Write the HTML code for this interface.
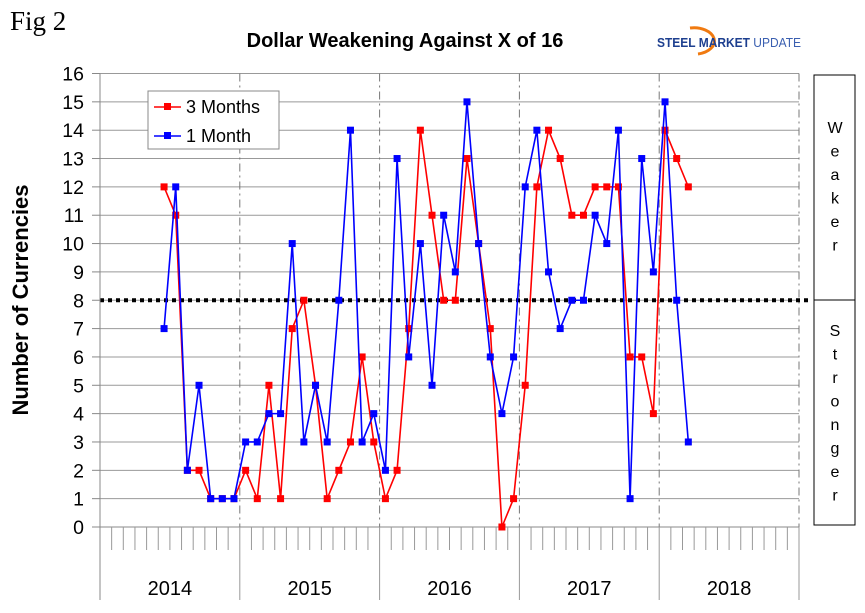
<!DOCTYPE html>
<html><head><meta charset="utf-8"><style>
body{margin:0;background:#fff;}
svg{display:block;font-family:"Liberation Sans",Arial,sans-serif;}
</style></head><body>
<svg id="chart" width="865" height="613" viewBox="0 0 865 613">
<text x="10" y="30" font-family="Liberation Serif,serif" font-size="27">Fig 2</text>
<text x="405" y="47" text-anchor="middle" font-size="20" font-weight="bold">Dollar Weakening Against X of 16</text>
<g>
<path d="M690 28 A20 13 0 0 1 698 54" fill="none" stroke="#f07a10" stroke-width="3"/>
<text x="657" y="47" font-size="13" font-weight="bold" fill="#1d3f8f" textLength="144" lengthAdjust="spacingAndGlyphs">STEEL MARKET <tspan font-weight="normal" fill="#3a5fb0">UPDATE</tspan></text>
</g>
<g id="grid"></g>
<g id="axes"></g>
<g id="series"></g>
<g>
<rect x="148" y="91" width="131" height="58" fill="#fff" stroke="#888" stroke-width="1"/>
<line x1="154" y1="107" x2="181" y2="107" stroke="#f00" stroke-width="1.5"/>
<rect x="164" y="103" width="7" height="7" fill="#f00"/>
<text x="186" y="113" font-size="18">3 Months</text>
<line x1="154" y1="136" x2="181" y2="136" stroke="#00f" stroke-width="1.5"/>
<rect x="164" y="132" width="7" height="7" fill="#00f"/>
<text x="186" y="142" font-size="18">1 Month</text>
</g>
<g>
<rect x="814" y="75" width="41" height="450" fill="none" stroke="#000" stroke-width="1"/>
<line x1="814" y1="300" x2="855" y2="300" stroke="#000" stroke-width="1"/>
<text id="weaker" font-size="16" text-anchor="middle"></text>
<text id="stronger" font-size="16" text-anchor="middle"></text>
</g>
<text transform="translate(28,300) rotate(-90)" text-anchor="middle" font-size="22" font-weight="bold">Number of Currencies</text>
</svg>
<script>
const years = ["2014","2015","2016","2017","2018"];
const yTicks = [0,1,2,3,4,5,6,7,8,9,10,11,12,13,14,15,16];
const startMonthIndex = 5; // June 2014
const threeMonths = [12,11,2,2,1,1,1,2,1,5,1,7,8,5,1,2,3,6,3,1,2,7,14,11,8,8,13,10,7,0,1,5,12,14,13,11,11,12,12,12,6,6,4,14,13,12];
const oneMonth = [7,12,2,5,1,1,1,3,3,4,4,10,3,5,3,8,14,3,4,2,13,6,10,5,11,9,15,10,6,4,6,12,14,9,7,8,8,11,10,14,1,13,9,15,8,3];
const neutral = 8;

const NS="http://www.w3.org/2000/svg";
const L=100,R=799,T=73.5,B=527;
const monthW=(R-L)/(years.length*12);
function xM(i){return L+(i+0.5)*monthW;}
function yV(v){return B-(v/16)*(B-T);}
function mk(tag,attrs,parent){const e=document.createElementNS(NS,tag);for(const k in attrs)e.setAttribute(k,attrs[k]);parent.appendChild(e);return e;}
const grid=document.getElementById('grid'),axes=document.getElementById('axes'),series=document.getElementById('series');

yTicks.forEach(v=>{
  if(v>0){const g=mk('line',{x1:L,x2:R,y1:yV(v),y2:yV(v),stroke:'#999','stroke-width':1},grid);
  
  }
  const t=mk('line',{x1:L-8,x2:L,y1:yV(v),y2:yV(v),stroke:'#888'},axes);
  const lb=mk('text',{x:84,y:yV(v)+7,'text-anchor':'end','font-size':19.5},axes);
  lb.textContent=v;
  
  
});
for(let k=1;k<=years.length;k++){
  const x=L+k*12*monthW;
  const d=mk('line',{x1:x,x2:x,y1:T,y2:B,stroke:'#777','stroke-dasharray':'8,4,2,4'},grid);
  
  
}
mk('line',{x1:L,x2:L,y1:T,y2:600,stroke:'#888'},axes);
mk('line',{x1:92,x2:R,y1:B,y2:B,stroke:'#888'},axes);
for(let m=1;m<years.length*12;m++){
  const x=L+m*monthW;
  const yr=m%12===0;
  mk('line',{x1:x,x2:x,y1:B,y2:yr?600:550,stroke:'#999'},axes);
}
mk('line',{x1:R,x2:R,y1:B,y2:600,stroke:'#999'},axes);
years.forEach((y,i)=>{
  const t=mk('text',{x:L+(i*12+6)*monthW,y:595,'text-anchor':'middle','font-size':20},axes);
  t.textContent=y;
  
  
});
const nl=mk('line',{x1:L,x2:812,y1:yV(neutral),y2:yV(neutral),stroke:'#000','stroke-width':4,'stroke-dasharray':'4,4'},grid);



function drawSeries(arr,color,name){
  const pts=arr.map((v,i)=>xM(startMonthIndex+i)+','+yV(v)).join(' ');
  const pl=mk('polyline',{points:pts,fill:'none',stroke:color,'stroke-width':1.6},series);
  
  
  arr.forEach((v,i)=>{
    const r=mk('rect',{x:xM(startMonthIndex+i)-3.5,y:yV(v)-3.5,width:7,height:7,fill:color},series);
    
    
  });
}
drawSeries(threeMonths,'#f00','three-months');
drawSeries(oneMonth,'#00f','one-month');

function vert(id,word,y0){
  const el=document.getElementById(id);
  [...word].forEach((c,i)=>{const ts=mk('tspan',{x:835,y:y0+i*23.5},el);ts.textContent=c;});
}
vert('weaker','Weaker',133);
vert('stronger','Stronger',336);
</script>
</body></html>
